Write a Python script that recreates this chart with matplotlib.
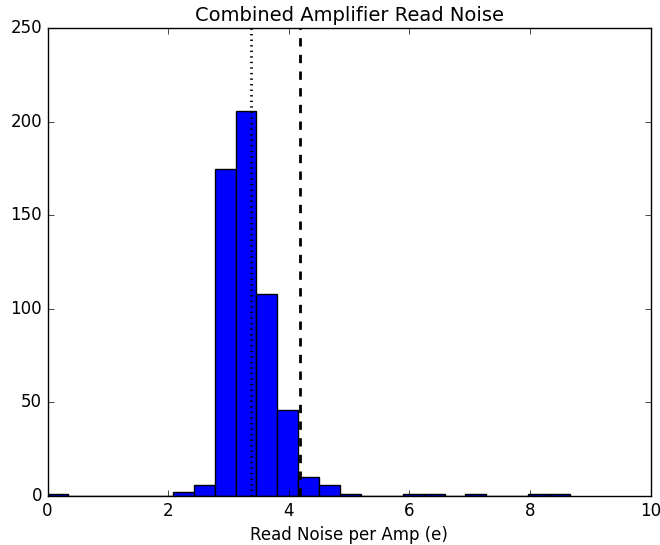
import matplotlib
matplotlib.use('Agg')
import matplotlib.pyplot as pl
import numpy as np

# histogram of combined amplifier read noise, 25 bins from 0 to ~8.66 e
bin_lo, bin_hi, nbins = 0.0, 8.66, 25
counts = [1, 0, 0, 0, 0, 0, 2, 6, 175, 206, 108, 46, 10, 6, 1,
          0, 0, 1, 1, 0, 1, 0, 0, 1, 1]

median_noise = 3.37     # dotted line
spec_noise = 4.18       # dashed line

xticks = [0, 2, 4, 6, 8, 10]
yticks = [0, 50, 100, 150, 200, 250]

pl.style.use('classic')

fig = pl.figure(figsize=(6.6, 5.45), dpi=100, facecolor='white')
ax = fig.add_axes([0.072, 0.090, 0.914, 0.858])

edges = np.linspace(bin_lo, bin_hi, nbins + 1)
ax.bar(edges[:-1], counts, width=np.diff(edges), align='edge',
       color='b', edgecolor='k', linewidth=1.0)

ax.axvline(median_noise, color='k', linestyle=':', linewidth=2)
ax.axvline(spec_noise, color='k', linestyle='--', linewidth=2)

ax.set_xlim(0, 10)
ax.set_ylim(0, 250)
ax.set_xticks(xticks)
ax.set_yticks(yticks)
ax.tick_params(labelsize=12)

ax.set_xlabel('Read Noise per Amp (e)', fontsize=12)
ax.set_title('Combined Amplifier Read Noise', fontsize=14)

fig.savefig('out.png', dpi=100, facecolor='white')
